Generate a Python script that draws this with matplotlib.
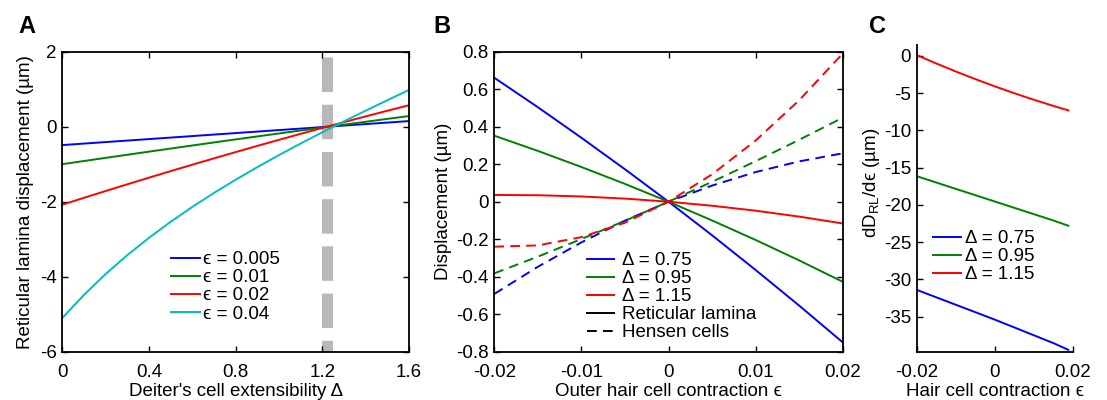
import matplotlib
matplotlib.use("Agg")
import matplotlib.pyplot as plt

plt.rcParams['font.family'] = ['Liberation Sans', 'DejaVu Sans']
plt.rcParams['axes.unicode_minus'] = False
plt.rcParams['mathtext.fontset'] = 'custom'
plt.rcParams['mathtext.rm'] = 'Liberation Sans'

FS = 13.5

# ---------------- Panel A data ----------------
delta_a = [0.0, 0.1, 0.2, 0.3, 0.4, 0.5, 0.6, 0.7, 0.8, 0.9, 1.0, 1.1, 1.2, 1.3, 1.4, 1.5, 1.6]
a_eps005 = [-0.49, -0.45, -0.41, -0.37, -0.33, -0.29, -0.25, -0.21, -0.17, -0.13, -0.09, -0.05, -0.01, 0.03, 0.07, 0.11, 0.15]
a_eps01 = [-1.00, -0.915, -0.831, -0.748, -0.665, -0.583, -0.501, -0.420, -0.339, -0.259, -0.180, -0.101, -0.023, 0.054, 0.131, 0.208, 0.283]
a_eps02 = [-2.08, -1.896, -1.715, -1.536, -1.359, -1.185, -1.013, -0.844, -0.677, -0.512, -0.350, -0.190, -0.033, 0.122, 0.275, 0.425, 0.573]
a_eps04 = [-5.10, -4.484, -3.929, -3.425, -2.963, -2.536, -2.139, -1.766, -1.414, -1.078, -0.757, -0.448, -0.148, 0.143, 0.427, 0.706, 0.980]
a_labels = ['ϵ = 0.005', 'ϵ = 0.01', 'ϵ = 0.02', 'ϵ = 0.04']
threshold_delta = 1.22
threshold_top = 1.85
a_xticks = [0, 0.4, 0.8, 1.2, 1.6]
a_xticklabels = ['0', '0.4', '0.8', '1.2', '1.6']
a_yticks = [-6, -4, -2, 0, 2]
a_yticklabels = ['-6', '-4', '-2', '0', '2']

# ---------------- Panel B data ----------------
eps_b = [-0.02, -0.015, -0.01, -0.005, 0.0, 0.005, 0.01, 0.015, 0.02]
rl_075 = [0.661, 0.504, 0.341, 0.173, 0.0, -0.179, -0.364, -0.554, -0.750]
rl_095 = [0.352, 0.271, 0.185, 0.095, 0.0, -0.100, -0.204, -0.313, -0.427]
rl_115 = [0.036, 0.0345, 0.028, 0.0165, 0.0, -0.0215, -0.048, -0.0795, -0.116]
hc_075 = [-0.492, -0.347, -0.217, -0.101, 0.0, 0.086, 0.158, 0.215, 0.258]
hc_095 = [-0.382, -0.293, -0.199, -0.102, 0.0, 0.106, 0.216, 0.330, 0.448]
hc_115 = [-0.240, -0.233, -0.189, -0.112, 0.0, 0.146, 0.326, 0.541, 0.790]
b_labels = ['Δ = 0.75', 'Δ = 0.95', 'Δ = 1.15', 'Reticular lamina', 'Hensen cells']
b_xticks = [-0.02, -0.01, 0, 0.01, 0.02]
b_xticklabels = ['-0.02', '-0.01', '0', '0.01', '0.02']
b_yticks = [-0.8, -0.6, -0.4, -0.2, 0, 0.2, 0.4, 0.6, 0.8]
b_yticklabels = ['-0.8', '-0.6', '-0.4', '-0.2', '0', '0.2', '0.4', '0.6', '0.8']

# ---------------- Panel C data ----------------
eps_c = [-0.02, -0.015, -0.01, -0.005, 0.0, 0.005, 0.01, 0.015, 0.0188]
d_075 = [-31.4, -32.4, -33.4, -34.4, -35.4, -36.45, -37.5, -38.55, -39.45]
d_095 = [-16.15, -17.0, -17.85, -18.7, -19.55, -20.4, -21.25, -22.1, -22.8]
d_115 = [0.1, -1.025, -2.1, -3.125, -4.1, -5.025, -5.9, -6.725, -7.32]
c_labels = ['Δ = 0.75', 'Δ = 0.95', 'Δ = 1.15']
c_xticks = [-0.02, 0, 0.02]
c_xticklabels = ['-0.02', '0', '0.02']
c_yticks = [0, -5, -10, -15, -20, -25, -30, -35]
c_yticklabels = ['0', '-5', '-10', '-15', '-20', '-25', '-30', '-35']

BLUE = (0, 0, 1)
GREEN = (0, 0.5, 0)
RED = (1, 0, 0)
CYAN = (0, 0.75, 0.75)
GRAY = (0.72, 0.72, 0.72)
LW = 1.4

fig = plt.figure(figsize=(11.07, 4.0), dpi=100)
W, H = 1107.0, 400.0


def axes_px(left, top, right, bottom):
    return fig.add_axes([left / W, (H - bottom) / H, (right - left) / W, (bottom - top) / H])


def style(ax, box=True):
    for s in ax.spines.values():
        s.set_linewidth(1.3)
    if not box:
        ax.spines['top'].set_visible(False)
        ax.spines['right'].set_visible(False)
    ax.tick_params(direction='in', length=4, width=1.0, labelsize=FS,
                   top=box, right=box)
    ax.tick_params(axis='x', pad=8.5)
    ax.tick_params(axis='y', pad=4)


# Panel A
axA = axes_px(62.3, 51.7, 409.0, 351.7)
axA.plot([threshold_delta, threshold_delta], [threshold_top, -6], color=GRAY, lw=8,
         dashes=(3.1, 1.15), solid_capstyle='butt', dash_capstyle='butt', zorder=1)
for y, c, lab in zip([a_eps005, a_eps01, a_eps02, a_eps04], [BLUE, GREEN, RED, CYAN], a_labels):
    axA.plot(delta_a, y, color=c, lw=LW, label=lab, zorder=2)
axA.set_xlim(0, 1.6)
axA.set_ylim(-6, 2)
axA.set_xticks(a_xticks, a_xticklabels)
axA.set_yticks(a_yticks, a_yticklabels)
axA.set_xlabel("Deiter's cell extensibility Δ", fontsize=FS, labelpad=1.5)
axA.set_ylabel("Reticular lamina displacement (µm)", fontsize=FS, labelpad=4.5)
style(axA)
axA.legend(loc='upper left', bbox_to_anchor=(0.313, 0.335), frameon=False, fontsize=FS,
           handlelength=1.56, handletextpad=0.15, labelspacing=0.05,
           borderpad=0, borderaxespad=0)

# Panel B
axB = axes_px(494.3, 51.7, 842.7, 351.7)
for y, c, lab in zip([rl_075, rl_095, rl_115], [BLUE, GREEN, RED], b_labels[:3]):
    axB.plot(eps_b, y, color=c, lw=LW, label=lab)
for y, c in zip([hc_075, hc_095, hc_115], [BLUE, GREEN, RED]):
    axB.plot(eps_b, y, color=c, lw=LW, linestyle=(0, (5, 3.2)))
axB.plot([], [], color='k', lw=LW, label=b_labels[3])
axB.plot([], [], color='k', lw=LW, linestyle=(0, (5, 3.2)), label=b_labels[4])
axB.set_xlim(-0.02, 0.02)
axB.set_ylim(-0.8, 0.8)
axB.set_xticks(b_xticks, b_xticklabels)
axB.set_yticks(b_yticks, b_yticklabels)
axB.set_xlabel("Outer hair cell contraction ϵ", fontsize=FS, labelpad=1.5)
axB.set_ylabel("Displacement (µm)", fontsize=FS, labelpad=3)
style(axB)
axB.legend(loc='upper left', bbox_to_anchor=(0.267, 0.332), frameon=False, fontsize=FS,
           handlelength=1.44, handletextpad=0.4, labelspacing=0.05,
           borderpad=0, borderaxespad=0)

# Panel C
axC = axes_px(916.7, 45.0, 1073.0, 351.7)
for y, c, lab in zip([d_075, d_095, d_115], [BLUE, GREEN, RED], c_labels):
    axC.plot(eps_c, y, color=c, lw=LW, label=lab)
axC.set_xlim(-0.02, 0.02)
axC.set_ylim(-39.7, 1.45)
axC.set_xticks(c_xticks, c_xticklabels)
axC.set_yticks(c_yticks, c_yticklabels)
axC.set_xlabel("Hair cell contraction ϵ", fontsize=FS, labelpad=1.5)
axC.set_ylabel(r"dD$_{\mathregular{RL}}$/dϵ (µm)", fontsize=FS)
axC.yaxis.set_label_coords(-0.225, 0.552)
style(axC, box=False)
axC.legend(loc='upper left', bbox_to_anchor=(0.106, 0.397), frameon=False, fontsize=FS,
           handlelength=1.5, handletextpad=0.2, labelspacing=0.05,
           borderpad=0, borderaxespad=0)

# Panel letters
for x, lab in [(18, 'A'), (433, 'B'), (869, 'C')]:
    fig.text(x / W, (H - 33) / H, lab, fontsize=17, fontweight='bold', ha='left', va='baseline')

fig.savefig('out.png', dpi=100)
